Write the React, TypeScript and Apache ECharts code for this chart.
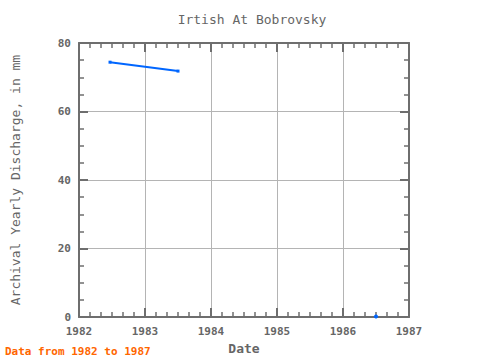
import React, { useEffect, useRef } from "react";
import * as echarts from "echarts";

const seriesA: [number, number][] = [
  [1982.47, 74.4],
  [1983.5, 71.8],
];
const seriesB: [number, number][] = [[1986.5, 0.2]];
const xTicks = [1982, 1983, 1984, 1985, 1986, 1987];
const yTicks = [0, 20, 40, 60, 80];

export default function App() {
  const ref = useRef<HTMLDivElement>(null);
  useEffect(() => {
    const chart = echarts.init(ref.current!, null, { renderer: "svg" });
    const font = "DejaVu Sans Mono";
    const axisGrey = "#6e6e6e";
    const common = {
      axisLine: { show: true, onZero: false, lineStyle: { color: axisGrey, width: 2 } },
      axisTick: { show: true, inside: true, length: 9, lineStyle: { color: axisGrey, width: 2 } },
      minorTick: { show: true, length: 5, lineStyle: { color: axisGrey, width: 1.5 } },
    };
    chart.setOption({
      animation: false,
      backgroundColor: "#fff",
      title: {
        text: "Irtish At Bobrovsky",
        left: 247,
        textAlign: "center",
        top: 8,
        textStyle: { fontFamily: font, fontSize: 13, fontWeight: "normal", color: "#666" },
      },
      grid: { left: 79, right: 71, top: 43, bottom: 38 },
      xAxis: [
        {
          type: "value",
          position: "bottom",
          min: xTicks[0],
          max: xTicks[xTicks.length - 1],
          interval: 1,
          name: "Date",
          nameLocation: "middle",
          nameGap: 20,
          nameTextStyle: { fontFamily: font, fontSize: 13, fontWeight: "bold", color: "#666" },
          axisLabel: {
            fontFamily: font,
            fontSize: 11,
            fontWeight: "bold",
            color: "#666",
            margin: 9,
            formatter: (v: number) => String(v),
          },
          splitLine: { show: true, lineStyle: { color: "#b4b4b4", width: 1 } },
          ...common,
          minorTick: { ...common.minorTick, splitNumber: 6 },
        },
        {
          type: "value",
          position: "top",
          min: xTicks[0],
          max: xTicks[xTicks.length - 1],
          interval: 1,
          axisLabel: { show: false },
          splitLine: { show: false },
          ...common,
          minorTick: { ...common.minorTick, splitNumber: 6 },
        },
      ],
      yAxis: [
        {
          type: "value",
          position: "left",
          min: yTicks[0],
          max: yTicks[yTicks.length - 1],
          interval: 20,
          name: "Archival Yearly Discharge, in mm",
          nameLocation: "middle",
          nameGap: 57,
          nameTextStyle: { fontFamily: font, fontSize: 13, fontWeight: "normal", color: "#666" },
          axisLabel: {
            fontFamily: font,
            fontSize: 11,
            fontWeight: "bold",
            color: "#666",
            margin: 8,
          },
          splitLine: { show: true, lineStyle: { color: "#b4b4b4", width: 1 } },
          ...common,
          minorTick: { ...common.minorTick, splitNumber: 4 },
        },
        {
          type: "value",
          position: "right",
          min: yTicks[0],
          max: yTicks[yTicks.length - 1],
          interval: 20,
          axisLabel: { show: false },
          splitLine: { show: false },
          ...common,
          minorTick: { ...common.minorTick, splitNumber: 4 },
        },
      ],
      graphic: [
        {
          type: "text",
          left: 5,
          top: 346,
          style: {
            text: "Data from 1982 to 1987",
            fontFamily: font,
            fontSize: 11,
            fontWeight: "bold",
            fill: "#ff6600",
          },
        },
      ],
      series: [
        {
          type: "line",
          data: seriesA,
          showSymbol: true,
          symbol: "rect",
          symbolSize: 3,
          lineStyle: { color: "#0066ff", width: 2 },
          itemStyle: { color: "#0066ff" },
        },
        {
          type: "line",
          data: seriesB,
          showSymbol: true,
          symbol: "circle",
          symbolSize: 4,
          lineStyle: { color: "#0066ff", width: 2 },
          itemStyle: { color: "#0066ff" },
          clip: false,
        },
      ],
    });
    return () => chart.dispose();
  }, []);
  return <div ref={ref} style={{ width: 480, height: 360, position: "absolute", left: 0, top: 0 }} />;
}
